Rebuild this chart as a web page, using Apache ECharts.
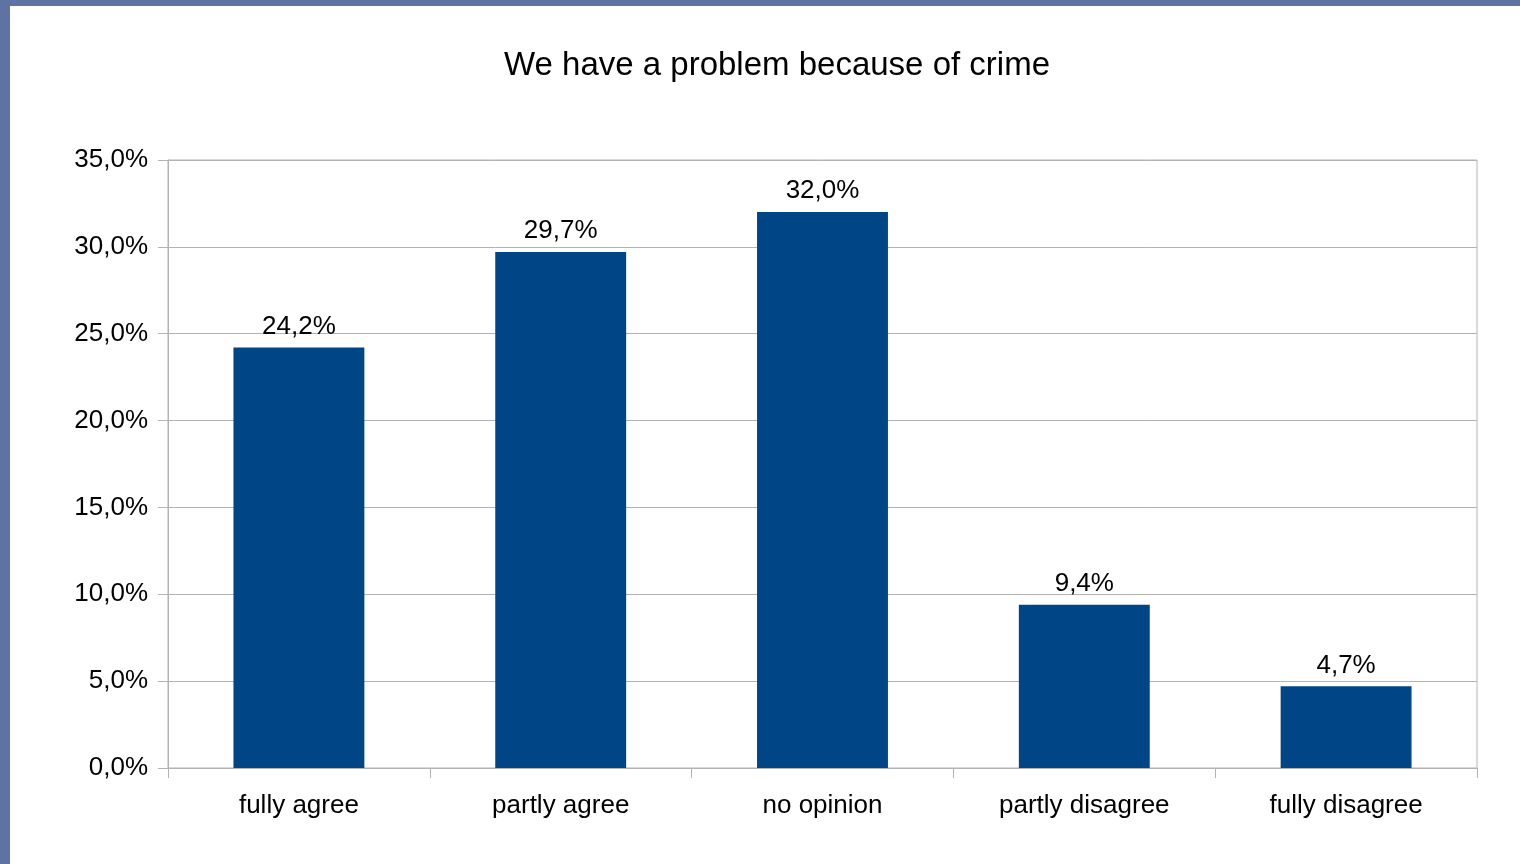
<!DOCTYPE html>
<html>
<head>
<meta charset="utf-8">
<style>
  html, body { margin: 0; padding: 0; width: 1520px; height: 864px; overflow: hidden;
    background: #5f72a4; }
  #chart { position: absolute; left: 10px; top: 6px; width: 1510px; height: 858px; background: #ffffff; }
</style>
<script src="https://cdn.jsdelivr.net/npm/echarts@6/dist/echarts.min.js"></script>
</head>
<body>
<div id="chart"></div>
<script>
// Survey answers and their shares in percent
const categories = ['fully agree', 'partly agree', 'no opinion', 'partly disagree', 'fully disagree'];
const shares = [24.2, 29.7, 32.0, 9.4, 4.7];
const chartTitle = 'We have a problem because of crime';

const fmt = v => v.toFixed(1).replace('.', ',') + '%';
const font = '"Liberation Sans", Arial, sans-serif';
const gridGray = '#b3b3b3';

const chart = echarts.init(document.getElementById('chart'), null, { renderer: 'canvas' });
chart.setOption({
  animation: false,
  backgroundColor: '#ffffff',
  title: {
    text: chartTitle,
    left: 489,
    top: 38,
    textStyle: { fontFamily: font, fontSize: 33, fontWeight: 'normal', color: '#000' }
  },
  grid: {
    left: 158, right: 43, top: 154, bottom: 96,
    show: true, borderColor: gridGray, borderWidth: 1, containLabel: false
  },
  xAxis: {
    type: 'category',
    data: categories,
    axisLine: { lineStyle: { color: gridGray, width: 1 } },
    axisTick: { show: true, length: 10, alignWithLabel: false, lineStyle: { color: gridGray } },
    axisLabel: { fontFamily: font, fontSize: 26, color: '#000', margin: 25 }
  },
  yAxis: {
    type: 'value',
    min: 0, max: 35, interval: 5,
    axisLine: { show: true, lineStyle: { color: gridGray, width: 1 } },
    axisTick: { show: true, length: 10, lineStyle: { color: gridGray } },
    splitLine: { lineStyle: { color: gridGray, width: 1 } },
    axisLabel: { fontFamily: font, fontSize: 26, color: '#000', margin: 20, padding: [4, 0, 0, 0], formatter: fmt }
  },
  series: [{
    type: 'bar',
    data: shares,
    barWidth: '50%',
    itemStyle: { color: '#004586' },
    label: {
      show: true, position: 'top', distance: 8,
      fontFamily: font, fontSize: 26, color: '#000',
      formatter: p => fmt(p.value)
    }
  }]
});
</script>
</body>
</html>
